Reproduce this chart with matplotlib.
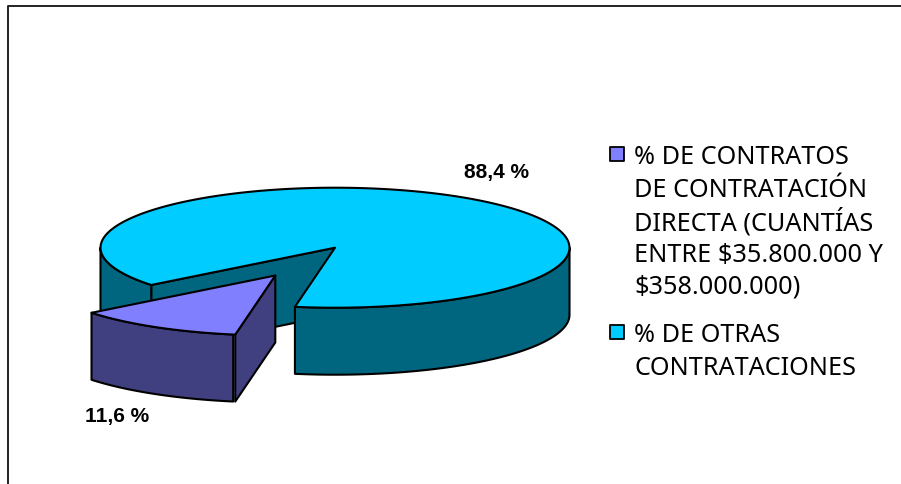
import numpy as np
import matplotlib
matplotlib.use("Agg")
import matplotlib.pyplot as plt
from matplotlib.patches import Polygon

# Data
categories = ["% DE CONTRATOS\nDE CONTRATACIÓN\nDIRECTA (CUANTÍAS\nENTRE $35.800.000 Y\n$358.000.000)",
              "% DE OTRAS\nCONTRATACIONES"]
values = [11.6, 88.4]
value_labels = ["11,6 %", "88,4 %"]

# Style and layout (pixel coordinates of the reference)
top_colors = ["#8080FF", "#00CCFF"]
side_colors = ["#404080", "#006680"]
cx, cy, rx, ry = 335.0, 248.7, 234.5, 60.0
depth = 67.0
explode = (-59.7, 27.8)
start_deg = 218.4
lw = 1.5

fig = plt.figure(figsize=(9.01, 4.85), dpi=100)
ax = fig.add_axes([0, 0, 1, 1])
ax.set_xlim(0, 901)
ax.set_ylim(485, 0)
ax.axis("off")


def rim(a0, a1, ox=0.0, oy=0.0, n=160):
    t = np.radians(np.linspace(a0, a1, n))
    return np.column_stack([cx + ox + rx * np.cos(t), cy + oy - ry * np.sin(t)])


def face(points, color, z):
    ax.add_patch(Polygon(points, closed=True, facecolor=color, edgecolor="black",
                         linewidth=lw, joinstyle="round", zorder=z))


def wall(a0, a1, color, z, ox=0.0, oy=0.0):
    upper = rim(a0, a1, ox, oy)
    lower = upper[::-1] + np.array([0, depth])
    face(np.vstack([upper, lower]), color, z)


def radial_face(a, color, z, ox=0.0, oy=0.0):
    edge = rim(a, a, ox, oy, n=1)[0]
    apex = np.array([cx + ox, cy + oy])
    d = np.array([0, depth])
    face(np.array([edge, apex, apex + d, edge + d]), color, z)


sweep = [v / sum(values) * 360.0 for v in values]
a_small_start = start_deg
a_small_end = start_deg + sweep[0]
a_big_end = a_small_end + sweep[1]

# Large slice
radial_face(a_small_start, side_colors[1], 1)
wall(180, a_small_start, side_colors[1], 2)
wall(a_small_end, 360, side_colors[1], 2)
face(np.vstack([[cx, cy], rim(a_small_end, a_big_end)]), top_colors[1], 3)

# Exploded small slice
ox, oy = explode
wall(a_small_start, a_small_end - 0.5, side_colors[0], 4, ox, oy)
radial_face(a_small_end, side_colors[0], 5, ox, oy)
face(np.vstack([[cx + ox, cy + oy], rim(a_small_start, a_small_end, ox, oy)]), top_colors[0], 6)

# Value labels
label_pos = [(117, 417), (497, 172.5)]
for txt, (x, y) in zip(value_labels, label_pos):
    ax.text(x, y, txt, family="Liberation Sans", fontweight="bold", fontsize=15,
            ha="center", va="center", color="black", zorder=10)

# Legend
legend_rows = [[155, 187.3, 219.6, 252, 284.3], [333, 365.5]]
for label, col, rows in zip(categories, top_colors, legend_rows):
    ax.scatter([617], [rows[0]], marker="s", s=105, facecolor=col, edgecolor="black",
               linewidth=1.3, zorder=10)
    for line, y in zip(label.split("\n"), rows):
        ax.text(634, y, line, family="Noto Sans", fontsize=18.2, ha="left",
                va="center_baseline", color="black", zorder=10)

# Chart frame (top and left only)
ax.plot([7.5, 7.5, 901], [485, 6.5, 6.5], color="#222222", linewidth=1.4, zorder=11)

fig.savefig("out.png", dpi=100, facecolor="white")
